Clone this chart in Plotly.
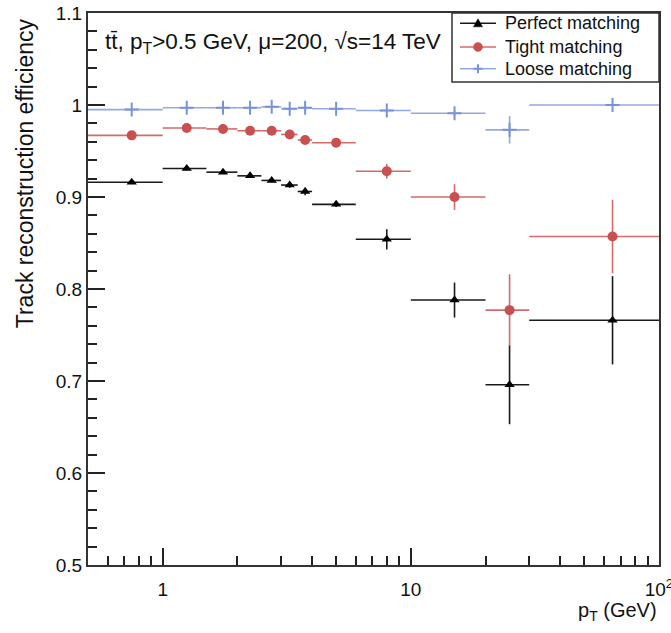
import plotly.graph_objects as go
import math

# ---- data ----
bin_edges = [0.5, 1.0, 1.5, 2.0, 2.5, 3.0, 3.5, 4.0, 6.0, 10.0, 20.0, 30.0, 100.0]

perfect_eff = [0.916, 0.931, 0.927, 0.923, 0.918, 0.913, 0.906, 0.892, 0.854, 0.788, 0.696, 0.766]
perfect_err = [0.002, 0.002, 0.002, 0.002, 0.002, 0.003, 0.004, 0.003, 0.011, 0.019, 0.043, 0.048]

tight_eff = [0.967, 0.975, 0.974, 0.972, 0.972, 0.968, 0.962, 0.959, 0.928, 0.900, 0.777, 0.857]
tight_err = [0.002, 0.002, 0.002, 0.002, 0.002, 0.002, 0.002, 0.002, 0.008, 0.014, 0.039, 0.040]

loose_eff = [0.995, 0.997, 0.997, 0.997, 0.998, 0.996, 0.997, 0.996, 0.994, 0.991, 0.973, 1.000]
loose_err = [0.001, 0.001, 0.001, 0.001, 0.001, 0.001, 0.001, 0.001, 0.002, 0.003, 0.015, 0.001]

series_names = ["Perfect matching", "Tight matching", "Loose matching"]

y_tick_vals = [0.5, 0.6, 0.7, 0.8, 0.9, 1.0, 1.1]
y_tick_text = ["0.5", "0.6", "0.7", "0.8", "0.9", "1", "1.1"]
x_tick_vals = [1, 10, 100]
x_tick_text = ["1", "10", "10<sup>2</sup>"]
x_minor_vals = [0.6, 0.7, 0.8, 0.9, 2, 3, 4, 5, 6, 7, 8, 9, 20, 30, 40, 50, 60, 70, 80, 90]

# ---- derived ----
lo = bin_edges[:-1]
hi = bin_edges[1:]
centers = [(a + b) / 2 for a, b in zip(lo, hi)]
err_plus = [b - c for b, c in zip(hi, centers)]
err_minus = [c - a for a, c in zip(lo, centers)]

FONT = "Liberation Sans, Arial, Helvetica, sans-serif"

styles = [
    dict(color="#000000", line="#1a1a1a", symbol="triangle-up", size=9),
    dict(color="#c85050", line="#d46a6a", symbol="circle", size=10),
    dict(color="#7892d6", line="#93a9e2", symbol="cross-thin", size=10),
]
effs = [perfect_eff, tight_eff, loose_eff]
errs = [perfect_err, tight_err, loose_err]

fig = go.Figure()
for name, st, eff, err in zip(series_names, styles, effs, errs):
    mk = dict(color=st["color"], symbol=st["symbol"], size=st["size"])
    if st["symbol"] == "cross-thin":
        mk["line"] = dict(color=st["color"], width=2)
    fig.add_trace(go.Scatter(
        x=centers, y=eff, mode="markers", showlegend=False, name=name,
        marker=mk,
        error_x=dict(type="data", symmetric=False, array=err_plus, arrayminus=err_minus,
                     color=st["line"], thickness=1.6, width=0),
        error_y=dict(type="data", array=err, color=st["line"], thickness=1.6, width=0),
    ))

# ---- legend box (drawn manually to match the compact ROOT legend) ----
LX0, LX1, LY0, LY1 = 0.6375, 1.0, 0.875, 1.0
ENTRY_Y = [0.9813, 0.9385, 0.8990]
LINE_X0, LINE_X1, MARK_X, TEXT_X = 0.6515, 0.7145, 0.683, 0.7268

shapes = [dict(type="rect", xref="paper", yref="paper", x0=LX0, x1=LX1, y0=LY0, y1=LY1,
               line=dict(color="#333", width=1.5), fillcolor="white", layer="above")]
annotations = []
for name, st, ey in zip(series_names, styles, ENTRY_Y):
    shapes.append(dict(type="line", xref="paper", yref="paper", x0=LINE_X0, x1=LINE_X1, y0=ey, y1=ey,
                       line=dict(color=st["line"], width=1.6), layer="above"))
    px = dict(xref="paper", yref="paper", xsizemode="pixel", ysizemode="pixel",
              xanchor=MARK_X, yanchor=ey, layer="above")
    if st["symbol"] == "triangle-up":
        shapes.append(dict(type="path", path="M -4.5,-3.5 L 4.5,-3.5 L 0,4.5 Z",
                           fillcolor=st["color"], line=dict(color=st["color"], width=0.5), **px))
    elif st["symbol"] == "circle":
        shapes.append(dict(type="circle", x0=-4.5, x1=4.5, y0=-4.5, y1=4.5,
                           fillcolor=st["color"], line=dict(color=st["color"], width=0.5), **px))
    else:
        shapes.append(dict(type="line", x0=-4.5, x1=4.5, y0=0, y1=0,
                           line=dict(color=st["color"], width=2), **px))
        shapes.append(dict(type="line", x0=0, x1=0, y0=-4.5, y1=4.5,
                           line=dict(color=st["color"], width=2), **px))
    annotations.append(dict(text=name, xref="paper", yref="paper", x=TEXT_X, y=ey,
                            xanchor="left", yanchor="middle", showarrow=False,
                            font=dict(size=18, family=FONT, color="#111")))

annotations += [
    dict(text="t\u0074\u0304, p<sub>T</sub>>0.5 GeV, \u03bc=200, \u221as=14 TeV",
         xref="paper", yref="paper", x=0.026, y=0.946, xanchor="left", yanchor="middle",
         showarrow=False, font=dict(size=22.5, family=FONT, color="#111")),
    dict(text="Track reconstruction efficiency", textangle=-90,
         xref="paper", yref="paper", x=-0.110, y=0.710, xanchor="center", yanchor="middle",
         showarrow=False, font=dict(size=23, family=FONT, color="#111")),
    dict(text="p<sub>T</sub> (GeV)",
         xref="paper", yref="paper", x=1.0, y=-0.085, xanchor="right", yanchor="middle",
         showarrow=False, font=dict(size=20, family=FONT, color="#111")),
]

fig.update_layout(
    width=671, height=633,
    margin=dict(l=88, r=12, t=13, b=68, pad=0),
    paper_bgcolor="white", plot_bgcolor="white",
    font=dict(family=FONT, size=19, color="#111"),
    showlegend=False,
    xaxis=dict(
        type="log", range=[math.log10(0.5), 2.0002], automargin=False,
        tickvals=x_tick_vals, ticktext=x_tick_text, ticklabeloverflow="allow",
        ticks="inside", ticklen=17, tickwidth=1.5, tickcolor="#222",
        ticklabelstandoff=6,
        minor=dict(tickvals=x_minor_vals, ticks="inside", ticklen=9, tickwidth=1.5, tickcolor="#222"),
        showgrid=False, zeroline=False,
        showline=True, mirror=True, linecolor="#333", linewidth=2,
        tickfont=dict(size=19, family=FONT, color="#111"),
    ),
    yaxis=dict(
        range=[0.5, 1.1], automargin=False,
        tickvals=y_tick_vals, ticktext=y_tick_text,
        ticks="inside", ticklen=17, tickwidth=1.5, tickcolor="#222",
        minor=dict(dtick=0.02, tick0=0.5, ticks="inside", ticklen=9, tickwidth=1.5, tickcolor="#222"),
        showgrid=False, zeroline=False,
        showline=True, mirror=True, linecolor="#333", linewidth=2,
        tickfont=dict(size=19, family=FONT, color="#111"),
    ),
    shapes=shapes,
    annotations=annotations,
)

fig.write_html("out.html")
